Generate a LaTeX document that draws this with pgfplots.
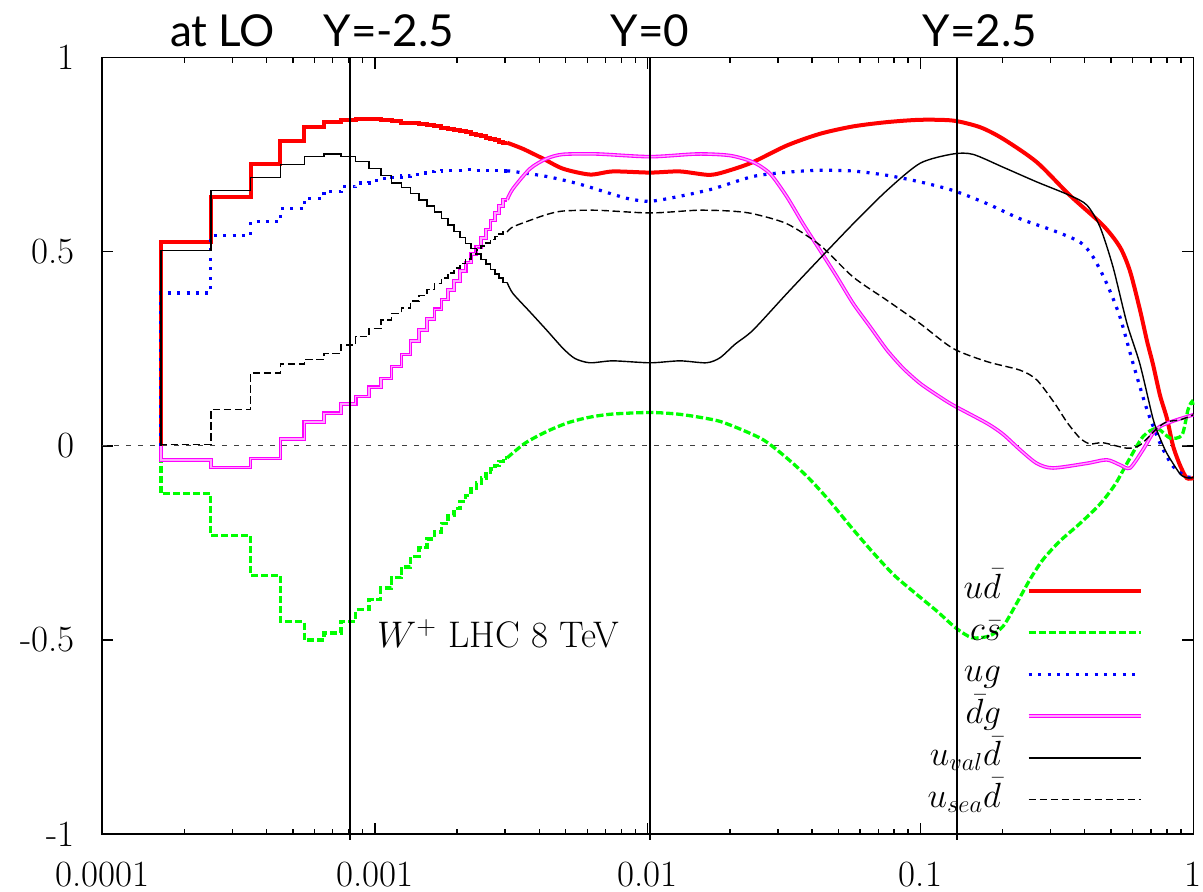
\RequirePackage{fix-cm}
\documentclass[border=0pt]{standalone}
\usepackage[no-math]{fontspec}
\usepackage{pgfplots}
\usepackage{pgfplotstable}
\pgfplotsset{compat=1.18}
\newfontfamily\toplabelfont{Lato}

\definecolor{gpred}{RGB}{255,0,0}
\definecolor{gpgreen}{RGB}{0,255,0}
\definecolor{gpblue}{RGB}{0,0,255}
\definecolor{gpmagenta}{RGB}{255,0,255}

% low-x region: histogram steps (left bin edges)
\pgfplotstableread{
x        ud     cs      ug     dg      val    sea
1.64e-4  0      0       0      0       0      0
1.64e-4  0.524  -0.123  0.394  -0.036  0.504  0.003
2.5e-4   0.641  -0.231  0.542  -0.056  0.658  0.093
3.5e-4   0.725  -0.334  0.577  -0.033  0.692  0.188
4.5e-4   0.785  -0.453  0.611  0.018   0.725  0.211
5.5e-4   0.821  -0.500  0.637  0.061   0.746  0.223
6.5e-4   0.834  -0.482  0.656  0.084   0.752  0.238
7.5e-4   0.840  -0.452  0.668  0.108   0.745  0.260
8.5e-4   0.842  -0.422  0.677  0.127   0.733  0.281
9.5e-4   0.842  -0.396  0.684  0.151   0.715  0.302
10.5e-4  0.840  -0.366  0.688  0.174   0.697  0.324
11.5e-4  0.836  -0.340  0.691  0.204   0.677  0.341
12.5e-4  0.833  -0.312  0.695  0.235   0.666  0.355
13.5e-4  0.831  -0.285  0.700  0.270   0.650  0.373
14.5e-4  0.829  -0.262  0.703  0.298   0.633  0.388
15.5e-4  0.826  -0.240  0.706  0.327   0.618  0.403
16.5e-4  0.823  -0.222  0.708  0.352   0.602  0.418
17.5e-4  0.820  -0.200  0.709  0.377   0.585  0.432
18.5e-4  0.817  -0.180  0.710  0.402   0.569  0.445
19.5e-4  0.814  -0.162  0.710  0.425   0.553  0.458
20.5e-4  0.811  -0.143  0.710  0.450   0.537  0.470
21.5e-4  0.808  -0.127  0.711  0.472   0.522  0.481
22.5e-4  0.804  -0.110  0.711  0.494   0.508  0.494
23.5e-4  0.800  -0.096  0.710  0.513   0.494  0.505
24.5e-4  0.797  -0.083  0.710  0.535   0.480  0.515
25.5e-4  0.793  -0.072  0.710  0.557   0.468  0.523
26.5e-4  0.790  -0.060  0.709  0.581   0.455  0.532
27.5e-4  0.787  -0.050  0.709  0.600   0.443  0.540
28.5e-4  0.784  -0.040  0.708  0.618   0.432  0.546
29.5e-4  0.781  -0.031  0.708  0.634   0.421  0.551
30.5e-4  0.781  -0.031  0.708  0.634   0.421  0.551
}\steps

\pgfplotsset{
  udstyle/.style={gpred, line width=2pt},
  csstyle/.style={gpgreen, line width=1.65pt, dash pattern=on 3.6pt off 1.4pt},
  ugstyle/.style={gpblue, line width=1.6pt, dash pattern=on 1.5pt off 3.2pt},
  dgstyle/.style={draw=gpmagenta, line width=0.55pt, double=gpmagenta!35, double distance=0.7pt},
  valstyle/.style={black, line width=0.7pt},
  seastyle/.style={black, line width=0.7pt, dash pattern=on 3.7pt off 1.8pt},
  curve/.style={smooth, tension=0.45, forget plot},
}

\begin{document}
\begin{tikzpicture}
\path[use as bounding box] (-51.15pt,-28.5pt) rectangle (550.35pt,417pt);
\begin{axis}[
  at={(0pt,0pt)}, anchor=south west,
  scale only axis, width=545.5pt, height=388.15pt,
  xmode=log, xmin=1e-4, xmax=1, ymin=-1, ymax=1,
  xtick={1e-4,1e-3,1e-2,1e-1,1},
  xticklabels={0.0001,0.001,0.01,0.1,1},
  minor xtick={2e-4,3e-4,4e-4,5e-4,6e-4,7e-4,8e-4,9e-4,
               2e-3,3e-3,4e-3,5e-3,6e-3,7e-3,8e-3,9e-3,
               2e-2,3e-2,4e-2,5e-2,6e-2,7e-2,8e-2,9e-2,
               0.2,0.3,0.4,0.5,0.6,0.7,0.8,0.9},
  ytick={-1,-0.5,0,0.5,1},
  yticklabels={-1,-0.5,0,0.5,1},
  tick align=inside, tick pos=both,
  major tick length=5.5pt, minor tick length=2.75pt,
  every tick/.style={black, line width=0.7pt},
  axis line style={line width=0.8pt},
  tick label style={font=\fontsize{18.5}{22}\selectfont},
  xticklabel style={anchor=base, yshift=-26.3pt, inner sep=0pt},
  yticklabel style={anchor=east, xshift=-13.65pt, inner sep=0pt},
  clip=false,
  legend style={at={(axis description cs:1,0)}, xshift=-25pt, yshift=8.4pt,
    anchor=south east, draw=none, fill=none, inner sep=0pt, outer sep=0pt,
    column sep=12.85pt, row sep=3.4pt,
    nodes={inner sep=0pt, text height=12.5pt, text depth=5pt,
           font=\fontsize{17.5}{21}\selectfont}},
  legend cell align=right,
  legend plot pos=right,
  legend image code/.code={\draw[#1] (0pt,0pt) -- (56.3pt,0pt);},
]

% zero line
\addplot[black!75, line width=0.4pt, dash pattern=on 2.5pt off 3.5pt, forget plot]
  coordinates {(1e-4,0) (1,0)};

% u dbar
\addplot[udstyle, const plot] table[x=x, y=ud] {\steps};
\addlegendentry{$u\bar{d}$}
\addplot[udstyle, curve] coordinates {
 (3.05e-3,0.781) (3.49e-3,0.765) (4.13e-3,0.740) (4.89e-3,0.714) (6.14e-3,0.699)
 (7.45e-3,0.707) (0.0102,0.704) (0.0131,0.707) (0.0169,0.698) (0.0200,0.710)
 (0.0243,0.731) (0.0324,0.774) (0.0428,0.804) (0.0566,0.823) (0.0753,0.834)
 (0.0996,0.840) (0.1315,0.838) (0.1652,0.821) (0.2006,0.791) (0.2667,0.731)
 (0.3532,0.645) (0.4667,0.568) (0.5384,0.512) (0.5861,0.45) (0.6377,0.35)
 (0.6766,0.27) (0.7117,0.21) (0.7551,0.13) (0.8010,0.07) (0.8428,0.0)
 (0.8939,-0.05) (0.9458,-0.083) (1,-0.083)};

% c sbar
\addplot[csstyle, const plot] table[x=x, y=cs] {\steps};
\addlegendentry{$c\bar{s}$}
\addplot[csstyle, curve] coordinates {
 (3.05e-3,-0.031) (3.55e-3,0.007) (4.26e-3,0.037) (5.12e-3,0.060) (6.14e-3,0.074)
 (7.44e-3,0.082) (0.0102,0.086) (0.0128,0.082) (0.0154,0.074) (0.0184,0.063)
 (0.0222,0.041) (0.0266,0.015) (0.0318,-0.027) (0.0384,-0.079) (0.0460,-0.139)
 (0.0553,-0.207) (0.0664,-0.272) (0.0797,-0.332) (0.0954,-0.379) (0.1149,-0.426)
 (0.1346,-0.469) (0.1541,-0.494) (0.1782,-0.490) (0.2006,-0.465) (0.2258,-0.404)
 (0.2520,-0.344) (0.2811,-0.293) (0.3247,-0.245) (0.3842,-0.20) (0.4549,-0.15)
 (0.5162,-0.10) (0.5714,-0.045) (0.654,0.024) (0.736,0.045) (0.8217,0.020)
 (0.9091,0.028) (0.9563,0.093) (0.989,0.114) (1,0.10)};

% u g
\addplot[ugstyle, const plot] table[x=x, y=ug] {\steps};
\addlegendentry{$ug$}
\addplot[ugstyle, curve] coordinates {
 (3.05e-3,0.708) (3.20e-3,0.707) (4.26e-3,0.694) (5.64e-3,0.674) (7.45e-3,0.648)
 (8.60e-3,0.636) (0.0102,0.630) (0.0131,0.643) (0.0173,0.662) (0.0243,0.694)
 (0.0324,0.705) (0.0428,0.710) (0.0566,0.708) (0.0753,0.697) (0.0996,0.680)
 (0.1315,0.658) (0.1753,0.624) (0.2316,0.585) (0.3059,0.555) (0.3842,0.525)
 (0.4288,0.487) (0.4817,0.418) (0.5384,0.332) (0.6010,0.213) (0.6766,0.093)
 (0.7551,0.007) (0.8428,-0.053) (0.9458,-0.08) (1,-0.08)};

% dbar g
\addplot[dgstyle, const plot] table[x=x, y=dg] {\steps};
\addlegendentry{$\bar{d}g$}
\addplot[dgstyle, curve] coordinates {
 (3.05e-3,0.634) (3.20e-3,0.662) (3.70e-3,0.714) (4.26e-3,0.740) (4.89e-3,0.751)
 (6.51e-3,0.752) (0.0102,0.745) (0.0152,0.752) (0.0200,0.748) (0.0243,0.731)
 (0.0281,0.701) (0.0324,0.641) (0.0371,0.572) (0.0428,0.504) (0.0494,0.435)
 (0.0566,0.367) (0.0653,0.307) (0.0753,0.247) (0.0863,0.200) (0.0996,0.161)
 (0.1149,0.131) (0.1315,0.105) (0.1753,0.058) (0.2006,0.030) (0.2316,-0.010)
 (0.2667,-0.045) (0.3059,-0.057) (0.4076,-0.045) (0.4817,-0.036) (0.5384,-0.049)
 (0.5861,-0.057) (0.654,-0.010) (0.7117,0.033) (0.7551,0.050) (0.801,0.058)
 (0.8693,0.067) (1,0.080)};

% u_val dbar
\addplot[valstyle, const plot] table[x=x, y=val] {\steps};
\addlegendentry{$u_{val}\bar{d}$}
\addplot[valstyle, curve] coordinates {
 (3.05e-3,0.421) (3.20e-3,0.393) (3.70e-3,0.345) (4.26e-3,0.298) (4.89e-3,0.251)
 (5.41e-3,0.225) (6.14e-3,0.214) (7.45e-3,0.219) (0.0102,0.214) (0.0131,0.219)
 (0.0164,0.214) (0.0184,0.227) (0.0209,0.262) (0.0243,0.298) (0.0324,0.393)
 (0.0428,0.483) (0.0566,0.572) (0.0753,0.658) (0.0996,0.728) (0.1315,0.752)
 (0.1557,0.751) (0.2006,0.718) (0.2667,0.680) (0.3532,0.645) (0.4076,0.620)
 (0.4549,0.564) (0.5077,0.461) (0.5714,0.315) (0.6377,0.21) (0.7117,0.07)
 (0.7551,0.02) (0.801,-0.02) (0.8939,-0.072) (0.9458,-0.082) (1,-0.082)};

% u_sea dbar
\addplot[seastyle, const plot] table[x=x, y=sea] {\steps};
\addlegendentry{$u_{sea}\bar{d}$}
\addplot[seastyle, curve] coordinates {
 (3.05e-3,0.551) (3.20e-3,0.564) (3.70e-3,0.581) (4.26e-3,0.596) (4.89e-3,0.605)
 (6.51e-3,0.607) (0.0102,0.600) (0.0152,0.607) (0.0200,0.605) (0.0243,0.598)
 (0.0324,0.572) (0.0428,0.517) (0.0566,0.435) (0.0753,0.375) (0.0996,0.315)
 (0.1315,0.251) (0.1753,0.217) (0.2316,0.195) (0.2667,0.170) (0.3100,0.110)
 (0.3450,0.060) (0.3842,0.020) (0.4180,0.005) (0.4667,0.008) (0.5714,-0.006)
 (0.6377,0.002) (0.736,0.045) (0.801,0.062) (0.8939,0.067) (1,0.080)};

% rapidity markers
\addplot[black, line width=1.2pt, forget plot] coordinates {(8.11e-4,-1.015) (8.11e-4,1)};
\addplot[black, line width=1.2pt, forget plot] coordinates {(0.01019,-1.015) (0.01019,1)};
\addplot[black, line width=1.2pt, forget plot] coordinates {(0.1357,-1.015) (0.1357,1)};

\node[anchor=base west, inner sep=0pt, font=\fontsize{18.5}{22}\selectfont]
  at (axis cs:1.0148e-3,-0.520) {$W^+$ LHC 8 TeV};

\begin{scope}[every node/.style={anchor=base, inner sep=0pt, font=\toplabelfont\fontsize{22}{26}\selectfont}]
\node at (axis cs:2.759e-4,1) [yshift=5.5pt] {at LO};
\node at (axis cs:1.125e-3,1) [yshift=5.5pt] {Y=-2.5};
\node at (axis cs:0.01019,1) [yshift=5.5pt] {Y=0};
\node at (axis cs:0.1652,1) [yshift=5.5pt] {Y=2.5};
\end{scope}
\end{axis}
\end{tikzpicture}
\end{document}
